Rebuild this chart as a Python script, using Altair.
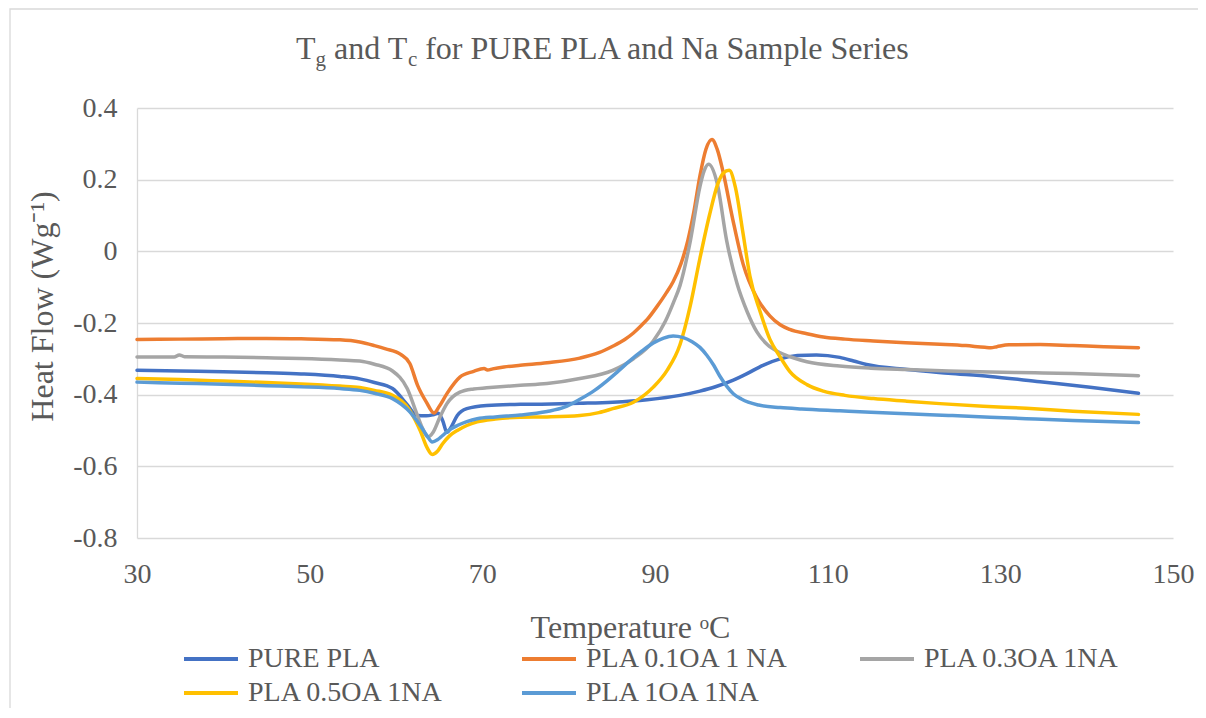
import altair as alt
import pandas as pd

# ---------------- data ----------------
series_names = ["PURE PLA", "PLA 0.1OA 1 NA", "PLA 0.3OA 1NA", "PLA 0.5OA 1NA", "PLA 1OA 1NA"]
series_colors = ["#4472C4", "#ED7D31", "#A5A5A5", "#FFC000", "#5B9BD5"]

pure_t = [30, 35, 40, 45, 49, 53.5, 55.8, 57.5, 59.6, 61.3, 62.4, 63.5, 64.3, 64.9, 65.4, 65.9, 66.4,
          67.1, 68.2, 70.5, 74.4, 78, 81.3, 85.1, 89.1, 92.9, 95.2, 97, 99, 100.6, 102.5, 104.5, 106.5,
          108.7, 111.4, 113, 114.5, 119.2, 124, 128.8, 134.6, 140.4, 146]
pure_v = [-0.332, -0.334, -0.336, -0.339, -0.342, -0.349, -0.356, -0.366, -0.383, -0.428, -0.458,
          -0.459, -0.456, -0.452, -0.472, -0.505, -0.49, -0.458, -0.439, -0.430, -0.427, -0.426,
          -0.424, -0.421, -0.414, -0.402, -0.39, -0.378, -0.36, -0.342, -0.318, -0.300, -0.291,
          -0.289, -0.296, -0.306, -0.316, -0.330, -0.340, -0.349, -0.364, -0.379, -0.396]

oa01_t = [30, 35, 40, 45, 49, 53.5, 55.8, 57.5, 58.8, 60.5, 61.6, 62.5, 63.5, 64.4, 65.0, 65.9, 67.4,
          69.0, 70.2, 70.6, 71.2, 72.5, 74.4, 77.5, 81.3, 83.5, 85.1, 86.5, 87.5, 88.5, 89.1, 90.2,
          91.2, 92.1, 93.0, 93.8, 94.5, 95.2, 95.9, 96.6, 97.2, 97.9, 99.0, 100.2, 101.8, 103.3,
          104.5, 105.6, 107.6, 109.5, 112, 115.3, 119, 123, 126, 128.2, 128.9, 129.6, 131, 134.6,
          138.4, 142, 146]
oa01_v = [-0.246, -0.245, -0.244, -0.243, -0.244, -0.247, -0.253, -0.263, -0.272, -0.287, -0.313,
          -0.374, -0.42, -0.451, -0.433, -0.397, -0.351, -0.335, -0.327, -0.331, -0.328, -0.323,
          -0.318, -0.311, -0.298, -0.283, -0.265, -0.246, -0.228, -0.205, -0.19, -0.155, -0.12,
          -0.085, -0.035, 0.03, 0.11, 0.21, 0.285, 0.312, 0.285, 0.22, 0.09, -0.035, -0.13, -0.18,
          -0.205, -0.218, -0.230, -0.239, -0.245, -0.250, -0.255, -0.259, -0.263, -0.268, -0.269,
          -0.266, -0.261, -0.260, -0.263, -0.266, -0.269]

oa03_t = [30, 34.3, 34.9, 35.5, 40, 45, 49, 53.5, 55.8, 57.5, 59.6, 61.3, 62.4, 63.0, 63.7, 64.3,
          65.1, 65.9, 67.4, 69.0, 70.5, 74.4, 77.5, 81.3, 85.1, 87.5, 89.8, 91.2, 92.1, 92.9, 94.1,
          95.2, 95.7, 96.2, 97.2, 98.3, 99.5, 100.7, 101.8, 103.0, 104.5, 106, 107.6, 111.4, 115,
          119.2, 124, 128.8, 134, 138.4, 146]
oa03_v = [-0.295, -0.295, -0.289, -0.294, -0.295, -0.297, -0.299, -0.303, -0.306, -0.315, -0.334,
          -0.383, -0.453, -0.49, -0.518, -0.505, -0.462, -0.425, -0.393, -0.384, -0.381, -0.374,
          -0.369, -0.355, -0.332, -0.300, -0.250, -0.195, -0.145, -0.095, 0.03, 0.18, 0.225,
          0.243, 0.19, 0.03, -0.09, -0.17, -0.225, -0.26, -0.283, -0.297, -0.308, -0.320, -0.326,
          -0.330, -0.334, -0.337, -0.339, -0.341, -0.347]

oa05_t = [30, 35, 40, 45, 49, 53.5, 55.8, 57.5, 59.6, 61.6, 62.8, 63.6, 64.2, 64.8, 65.4, 66.2, 67.1,
          68.2, 69.4, 71.5, 74.4, 77.5, 81.3, 83.5, 85.1, 87.5, 89.8, 91.4, 92.9, 94.1, 95.2, 96.3,
          97.3, 97.9, 98.6, 99.3, 100.2, 101.0, 102.2, 103.3, 104.5, 105.6, 107.6, 109.5, 112,
          115.3, 119, 123, 128, 133, 138.4, 146]
oa05_v = [-0.355, -0.358, -0.362, -0.366, -0.370, -0.376, -0.380, -0.388, -0.402, -0.444, -0.50,
          -0.548, -0.567, -0.558, -0.537, -0.515, -0.50, -0.486, -0.476, -0.468, -0.463, -0.462,
          -0.458, -0.450, -0.439, -0.421, -0.379, -0.332, -0.26, -0.15, -0.02, 0.10, 0.19, 0.218,
          0.226, 0.18, 0.05, -0.07, -0.17, -0.245, -0.295, -0.335, -0.372, -0.390, -0.402, -0.411,
          -0.418, -0.425, -0.432, -0.438, -0.446, -0.455]

oa1_t = [30, 35, 40, 45, 49, 53.5, 55.8, 57.5, 59.6, 61.6, 62.8, 63.6, 64.2, 64.8, 65.4, 66.2, 67.1,
         68.2, 69.4, 71.5, 74.4, 77.5, 79.5, 81.3, 83, 84.4, 85.8, 87.1, 88.5, 89.8, 91, 92.1, 93.2,
         94.3, 95.2, 96.0, 96.8, 97.5, 98.3, 99.1, 100.0, 100.8, 102, 104.5, 107, 111.4, 115, 119.2,
         124, 128.8, 133, 138.4, 146]
oa1_v = [-0.365, -0.368, -0.371, -0.375, -0.378, -0.383, -0.388, -0.396, -0.411, -0.448, -0.486,
         -0.515, -0.532, -0.526, -0.514, -0.498, -0.486, -0.475, -0.467, -0.462, -0.457, -0.447,
         -0.435, -0.413, -0.388, -0.362, -0.333, -0.305, -0.278, -0.256, -0.242, -0.236, -0.240,
         -0.252, -0.268, -0.290, -0.318, -0.348, -0.376, -0.398, -0.412, -0.421, -0.429, -0.436,
         -0.440, -0.445, -0.449, -0.453, -0.458, -0.463, -0.467, -0.472, -0.478]

x_ticks = [30, 50, 70, 90, 110, 130, 150]
y_ticks = [-0.8, -0.6, -0.4, -0.2, 0, 0.2, 0.4]

title_main = "T"
title_sub1 = "g"
title_mid = "and T"
title_sub2 = "c"
title_rest = "for PURE PLA and Na Sample Series"
x_title = "Temperature ᵒC"
y_title = "Heat Flow (Wg⁻¹)"

rows = []
for name, ts, vs in zip(series_names,
                        [pure_t, oa01_t, oa03_t, oa05_t, oa1_t],
                        [pure_v, oa01_v, oa03_v, oa05_v, oa1_v]):
    for t, v in zip(ts, vs):
        rows.append({"series": name, "temp": t, "heat": v})
df = pd.DataFrame(rows)

# ---------------- style ----------------
FONT = "Liberation Serif"
TXT = "#595959"
GRID = "#D9D9D9"

lines = alt.Chart(df).mark_line(
    strokeWidth=3.5, interpolate="monotone", strokeCap="round", strokeJoin="round"
).encode(
    x=alt.X("temp:Q",
            scale=alt.Scale(domain=[30, 150], nice=False, zero=False),
            axis=alt.Axis(values=x_ticks, grid=False, domain=False, ticks=False, labelFlush=False,
                          labelFontSize=28, labelPadding=22, labelColor=TXT, labelFont=FONT,
                          title=x_title, titleFontSize=32, titleFont=FONT, titleColor=TXT,
                          titleFontWeight="normal", titleX=493, titleY=89, titleBaseline="middle")),
    y=alt.Y("heat:Q",
            scale=alt.Scale(domain=[-0.8, 0.4], nice=False, zero=False),
            axis=alt.Axis(values=y_ticks, grid=True, gridColor=GRID, gridWidth=1.3,
                          domain=True, domainColor=GRID, domainWidth=1.3, ticks=False,
                          labelFlush=False,
                          labelExpr="replace(format(datum.value, '.1~f'), '\u2212', '-')",
                          labelFontSize=28, labelPadding=20, labelColor=TXT, labelFont=FONT,
                          title=y_title, titleFontSize=32, titleFont=FONT, titleColor=TXT,
                          titleFontWeight="normal", titleX=-95, titleY=198, titleBaseline="middle")),
    color=alt.Color("series:N",
                    scale=alt.Scale(domain=series_names, range=series_colors),
                    legend=alt.Legend(title=None, orient="none", legendX=60, legendY=537,
                                      direction="horizontal", columns=3, gridAlign="all",
                                      columnPadding=62, rowPadding=6, symbolType="M-3,0H3",
                                      symbolSize=324, symbolStrokeWidth=4,
                                      labelFontSize=28, labelFont=FONT, labelColor=TXT,
                                      labelOffset=23, labelLimit=400)),
)


def piece(text, x, y, size):
    return alt.Chart(pd.DataFrame({"t": [text]})).mark_text(
        align="left", baseline="alphabetic", font=FONT, fontSize=size, color=TXT
    ).encode(x=alt.value(x), y=alt.value(y), text="t:N")


border = alt.Chart(pd.DataFrame({"b": [1]})).mark_rect(
    fillOpacity=0, stroke=GRID, strokeWidth=1.3
).encode(x=alt.value(-127), x2=alt.value(1300), y=alt.value(-99), y2=alt.value(800))

chart = alt.layer(
    border,
    lines,
    piece(title_main, 159, -49, 32),
    piece(title_sub1, 178.6, -42, 21),
    piece(title_mid, 197.1, -49, 32),
    piece(title_sub2, 270.9, -42, 21),
    piece(title_rest, 288.2, -49, 32),
).properties(
    width=1036, height=430,
    autosize=alt.AutoSizeParams(type="none"),
    padding={"left": 129, "top": 100, "right": 25, "bottom": 170},
).configure_view(stroke=None)

chart.save("out.html", embed_options={"renderer": "svg", "actions": False})
